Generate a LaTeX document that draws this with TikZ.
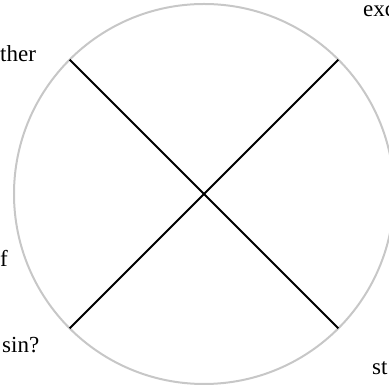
\documentclass[tikz,border=0pt]{standalone}
\usepackage{fontspec}
\setmainfont{Liberation Serif}
\begin{document}
\begin{tikzpicture}[x=1pt,y=1pt,
  ring/.style={circle,draw=black!22,line width=2pt,minimum size=380pt,inner sep=0pt,outer sep=0pt},
  spoke/.style={draw=black,line width=2pt},
  lbl/.style={anchor=base west,inner sep=0pt,font=\fontsize{23}{27}\selectfont}]
\useasboundingbox (0,0) rectangle (389,387);
\node[ring] (c) at (204,193) {};
\draw[spoke] (c.135) -- (c.-45);
\draw[spoke] (c.45) -- (c.225);
\node[lbl] (t1) at (0,325) {ther};
\node[lbl] (t2) at (363,370) {exc};
\node[lbl] (t3) at (0,120) {f};
\node[lbl] (t4) at (2,34) {sin?};
\node[lbl] (t5) at (372,12) {st};
\end{tikzpicture}
\end{document}
